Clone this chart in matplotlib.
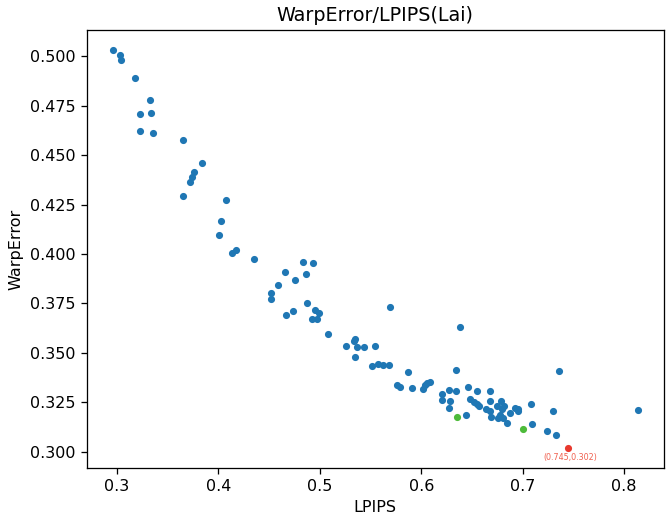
import matplotlib
matplotlib.use("Agg")
import matplotlib.pyplot as plt

# LPIPS / WarpError pairs (blue)
lpips = [0.296, 0.303, 0.304, 0.318, 0.333, 0.3225, 0.334, 0.323, 0.3355, 0.365,
         0.3843, 0.376, 0.374, 0.3723, 0.3655, 0.408, 0.4024, 0.4005, 0.413, 0.4177,
         0.4354, 0.483, 0.493, 0.4658, 0.4866, 0.476, 0.4587, 0.4522, 0.4519, 0.4876,
         0.4668, 0.4736, 0.4956, 0.4995, 0.4927, 0.4976, 0.5085, 0.5694, 0.5345, 0.5342,
         0.526, 0.5364, 0.5432, 0.5549, 0.5345, 0.551, 0.5575, 0.5625, 0.568,
         0.638, 0.5872, 0.6338, 0.5759, 0.5788, 0.5908, 0.6018, 0.6034, 0.6056, 0.6085,
         0.6202, 0.6274, 0.6338, 0.6206, 0.628, 0.6277, 0.6442, 0.6458, 0.6549, 0.6682,
         0.648, 0.652, 0.6546, 0.6571, 0.6678, 0.6636, 0.6675, 0.6687, 0.6746, 0.6785,
         0.6814, 0.6798, 0.6779, 0.6752, 0.6801, 0.685, 0.6879, 0.6927, 0.6956, 0.695,
         0.7085, 0.7092, 0.7361, 0.7299, 0.8134, 0.7241, 0.7332]
warp = [0.503, 0.5006, 0.498, 0.4887, 0.478, 0.4705, 0.471, 0.462, 0.461, 0.4578,
        0.4462, 0.4412, 0.439, 0.4366, 0.4294, 0.4274, 0.4168, 0.4097, 0.4007, 0.402,
        0.3976, 0.3961, 0.3956, 0.3909, 0.390, 0.387, 0.3845, 0.3805, 0.3772, 0.375,
        0.3694, 0.3711, 0.3716, 0.3703, 0.3673, 0.3674, 0.3597, 0.3732, 0.357, 0.3562,
        0.3537, 0.353, 0.3532, 0.3535, 0.348, 0.3435, 0.3445, 0.344, 0.3438,
        0.3632, 0.3404, 0.3414, 0.3337, 0.333, 0.3321, 0.332, 0.334, 0.3349, 0.3355,
        0.3293, 0.3313, 0.331, 0.326, 0.3258, 0.3224, 0.3185, 0.3327, 0.3308, 0.3306,
        0.3268, 0.3251, 0.3243, 0.3234, 0.3258, 0.3219, 0.3208, 0.3177, 0.3234, 0.3256,
        0.3233, 0.3218, 0.3189, 0.317, 0.3172, 0.3144, 0.3195, 0.3224, 0.3218, 0.3206,
        0.3241, 0.3142, 0.3409, 0.3209, 0.3214, 0.3107, 0.3087]

# highlighted points
green_lpips = [0.635, 0.700]
green_warp = [0.3175, 0.3115]
best_lpips = 0.745
best_warp = 0.302

fig = plt.figure(figsize=(666 / 115, 521 / 115), dpi=115)
ax = fig.add_subplot(111)
fig.subplots_adjust(left=0.130, right=0.997, top=0.942, bottom=0.102)

ax.scatter(lpips, warp, s=12, color='#1f77b4')
ax.scatter(green_lpips, green_warp, s=12, color='#4dbb3a')
ax.scatter([best_lpips], [best_warp], s=12, color='#e8392e')
ax.annotate(f'({best_lpips},{best_warp})', (best_lpips, best_warp),
            xytext=(1, -6), textcoords='offset points', ha='center', va='center',
            fontsize=5, color='#f0604f')

ax.set_title('WarpError/LPIPS(Lai)')
ax.set_xlabel('LPIPS')
ax.set_ylabel('WarpError')

fig.savefig('out.png', dpi=115)
